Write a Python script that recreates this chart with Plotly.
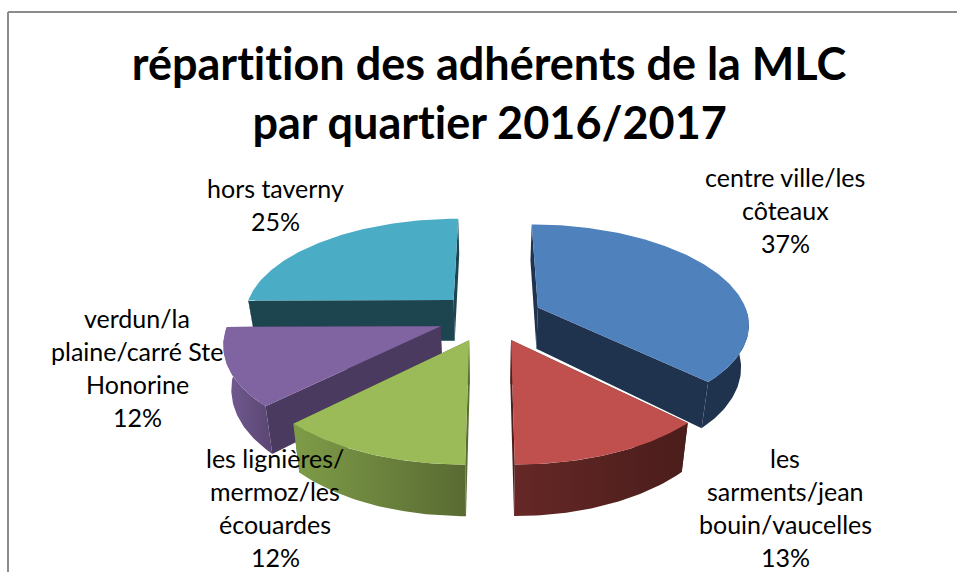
import math
import plotly.graph_objects as go

# --- data -------------------------------------------------------------
categories = ["centre ville/les côteaux", "les sarments/jean bouin/vaucelles",
              "les lignières/ mermoz/les écouardes",
              "verdun/la plaine/carré Ste Honorine", "hors taverny"]
shares = [37.4, 12.6, 12.49, 12.4, 25.1]
percent_labels = ["37%", "13%", "12%", "12%", "25%"]
label_lines = [["centre ville/les", "côteaux"],
               ["les", "sarments/jean", "bouin/vaucelles"],
               ["les lignières/", "mermoz/les", "écouardes"],
               ["verdun/la", "plaine/carré Ste", "Honorine"],
               ["hors taverny"]]
title_lines = ["répartition des adhérents de la MLC", "par quartier 2016/2017"]

# --- style ------------------------------------------------------------
top_colors = ["#4F81BD", "#C0504D", "#9BBB59", "#8064A2", "#4BACC6"]
cut_colors = ["#1F334F", "#4E1F1D", "#5B6C33", "#4B3A5F", "#1D454F"]
wall_grad = [("#1F334F", "#1F334F"), ("#652826", "#4A1D1B"), ("#7E9C48", "#596A32"),
             ("#735C94", "#5A4672"), ("#1D454F", "#1D454F")]
label_xy = [(785, 177), (785, 458), (275, 458), (137, 318), (275, 188)]
draw_order = [4, 0, 3, 2, 1]

CX, CY = 490.0, 316.7      # pie centre on screen
RX, RY = 210.5, 98.0       # plane radii at depth 0
PERSP = 0.15               # perspective strength
DEPTH = 42.0               # extrusion
PULL = 0.25                # explosion
START = 0.0                # first slice angle, degrees clockwise from top
BOTTOM_X = 0.97            # lower rim converges slightly


def project(X, Y, bottom=False):
    s = 1 / (1 - PERSP * Y)
    x = CX + RX * X * s * (BOTTOM_X if bottom else 1)
    y = CY + RY * Y * s + (DEPTH * s if bottom else 0)
    return x, y


def arc(a0, a1, px, py, bottom=False):
    n = max(2, int(abs(a1 - a0)) + 1)
    xs, ys = [], []
    for i in range(n):
        t = math.radians(a0 + (a1 - a0) * i / (n - 1))
        x, y = project(px + math.sin(t), py - math.cos(t), bottom)
        xs.append(x)
        ys.append(y)
    return xs, ys


fig = go.Figure()


def poly(xs, ys, color, name, grad=None):
    kw = dict(fillcolor=color) if grad is None else dict(
        fillgradient=dict(type="horizontal", colorscale=[[0, grad[0]], [1, grad[1]]]))
    fig.add_trace(go.Scatter(x=xs + xs[:1], y=ys + ys[:1], mode="lines", fill="toself",
                             line=dict(width=0, color=color), hoverinfo="skip",
                             name=name, showlegend=False, **kw))


total = sum(shares)
edges = [START]
for p in shares:
    edges.append(edges[-1] + 360 * p / total)

for i in draw_order:
    a0, a1 = edges[i], edges[i + 1]
    mid = math.radians((a0 + a1) / 2)
    px, py = PULL * math.sin(mid), -PULL * math.cos(mid)
    ax, ay = project(px, py)
    bx, by = project(px, py, True)
    # radial cut faces
    for a in (a0, a1):
        xt, yt = arc(a, a, px, py)
        xb, yb = arc(a, a, px, py, True)
        poly([ax, xt[0], xb[0], bx], [ay, yt[0], yb[0], by], cut_colors[i], categories[i])
    # outer wall, only the part that faces the viewer
    lo, hi = max(a0, 90), min(a1, 270)
    if lo < hi:
        xt, yt = arc(lo, hi, px, py)
        xb, yb = arc(lo, hi, px, py, True)
        poly(xt + xb[::-1], yt + yb[::-1], wall_grad[i][0], categories[i], grad=wall_grad[i])
    # top face
    xt, yt = arc(a0, a1, px, py)
    poly([ax] + xt, [ay] + yt, top_colors[i], categories[i])

annotations = []


def text(x, y, s, size, bold=False):
    annotations.append(dict(x=x, y=y, xref="x", yref="y", text=f"<b>{s}</b>" if bold else s,
                            showarrow=False, xanchor="center", yanchor="middle",
                            font=dict(family="Lato", size=size, color="#000000")))


for s, y in zip(title_lines, (63, 122)):
    text(489, y, s, 45, True)

LINE = 33
for lines, p, (x, y) in zip(label_lines, percent_labels, label_xy):
    for k, s in enumerate(lines + [p]):
        text(x, y + k * LINE, s, 25)

frame = [dict(type="line", xref="x", yref="y", x0=8, y0=572, x1=8, y1=12,
              line=dict(color="#8C8C8C", width=2)),
         dict(type="line", xref="x", yref="y", x0=8, y0=12, x1=957, y1=12,
              line=dict(color="#8C8C8C", width=2))]

fig.update_layout(width=957, height=572, margin=dict(l=0, r=0, t=0, b=0),
                  paper_bgcolor="white", plot_bgcolor="white", showlegend=False,
                  xaxis=dict(range=[0, 957], visible=False, fixedrange=True),
                  yaxis=dict(range=[572, 0], visible=False, fixedrange=True),
                  annotations=annotations, shapes=frame)

fig.write_html("out.html", config=dict(displayModeBar=False),
               post_script="document.body.style.margin='0';document.body.style.overflow='hidden';"
                           "var st=document.createElement('style');"
                           "st.textContent='svg text, svg tspan{font-variant-ligatures:none!important;"
                           "font-feature-settings:\"liga\" 0,\"clig\" 0,\"dlig\" 0,\"calt\" 0!important;}';"
                           "document.head.appendChild(st);"
                           "document.querySelectorAll('svg text').forEach(function(t){"
                           "t.style.fontVariantLigatures='none';t.style.fontFeatureSettings='\"liga\" 0';});")
